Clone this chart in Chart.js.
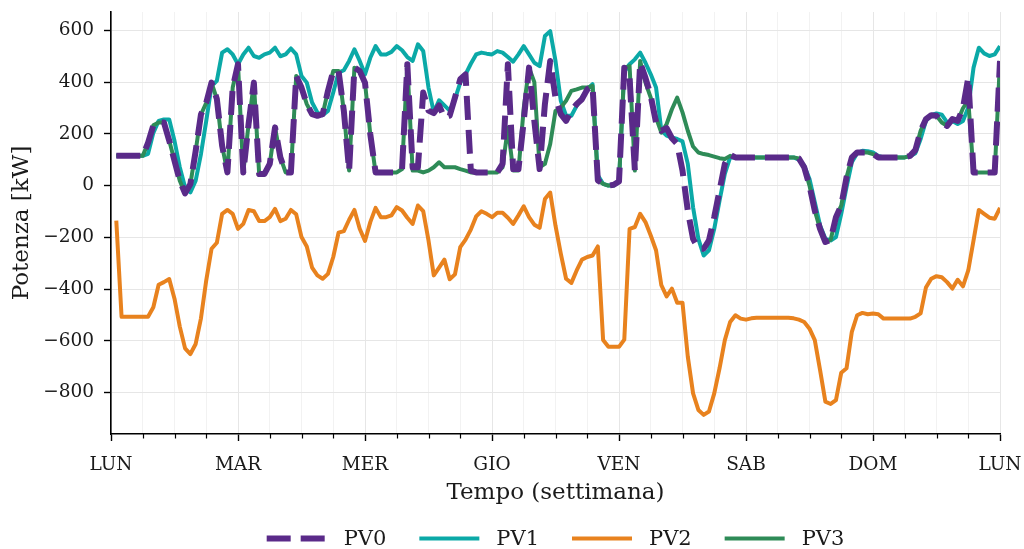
<!DOCTYPE html>
<html>
<head>
<meta charset="utf-8">
<script src="https://cdn.jsdelivr.net/npm/chart.js@4.4.1/dist/chart.umd.min.js"></script>
<style>
  html, body { margin: 0; padding: 0; background: #fff; }
</style>
</head>
<body>
<canvas id="potenzaChart" width="1024" height="549"></canvas>
<script>
// giorni della settimana (un'etichetta ogni 24 ore)
const dayLabels = ["LUN", "MAR", "MER", "GIO", "VEN", "SAB", "DOM", "LUN"];
const xTicks = [0, 6, 12, 18, 24, 30, 36, 42, 48, 54, 60, 66, 72, 78, 84, 90, 96, 102, 108, 114, 120, 126, 132, 138, 144, 150, 156, 162, 168];
const yTicks = [-800, -600, -400, -200, 0, 200, 400, 600];

// ore della settimana: 1..168
const hours = Array.from({ length: 168 }, (_, i) => i + 1);

// potenza oraria [kW]
const pv0 = [
  115, 115, 115, 115, 115, 115, 165, 233, 244, 244, 174, 96,
  19, -30, 6, 134, 275, 320, 398, 335, 154, 51, 379, 469,
  51, 238, 398, 45, 45, 84, 225, 110, 51, 51, 424, 379,
  315, 276, 270, 276, 366, 443, 443, 289, 58, 456, 443, 398,
  199, 51, 51, 51, 51, 51, 64, 469, 71, 71, 360, 290,
  280, 310, 263, 270, 340, 411, 430, 58, 51, 51, 51, 51,
  51, 84, 469, 64, 64, 250, 456, 250, 64, 315, 482, 340,
  276, 250, 289, 315, 334, 372, 385, 20, 7, 0, 3, 16,
  456, 417, 58, 475, 417, 347, 244, 212, 222, 183, 161, 58,
  -97, -206, -244, -244, -212, -122, -19, 84, 119, 109, 109, 109,
  109, 109, 109, 109, 109, 109, 109, 109, 109, 105, 71, 0,
  -97, -167, -218, -209, -122, -77, 32, 109, 128, 128, 128, 122,
  109, 109, 109, 109, 109, 109, 115, 137, 212, 257, 272, 270,
  244, 231, 257, 250, 299, 417, 51, 51, 51, 51, 51, 482
];
const pv1 = [
  115, 115, 115, 115, 115, 115, 123, 204, 250, 256, 256, 173,
  71, -6, -26, 19, 122, 250, 385, 405, 514, 527, 507, 469,
  507, 533, 501, 494, 507, 514, 533, 500, 507, 530, 507, 424,
  398, 321, 283, 272, 289, 360, 437, 446, 482, 527, 482, 430,
  494, 539, 507, 507, 517, 539, 523, 497, 482, 546, 520, 379,
  283, 330, 310, 290, 334, 398, 430, 471, 507, 514, 510, 507,
  520, 514, 497, 479, 507, 539, 507, 475, 462, 578, 597, 482,
  328, 270, 270, 308, 340, 372, 392, 40, 7, 0, 0, 16,
  440, 469, 488, 514, 475, 430, 379, 214, 193, 186, 180, 171,
  84, -84, -206, -270, -250, -167, -58, 45, 109, 109, 109, 109,
  109, 109, 109, 109, 109, 109, 109, 109, 109, 100, 77, 26,
  -64, -154, -205, -212, -199, -109, -6, 90, 125, 135, 133, 128,
  115, 109, 109, 109, 109, 109, 113, 125, 180, 250, 272, 279,
  274, 244, 250, 238, 250, 302, 456, 533, 511, 501, 507, 539
];
const pv2 = [
  -135, -507, -507, -507, -507, -507, -507, -470, -383, -373, -361, -437,
  -545, -629, -651, -612, -513, -366, -244, -221, -109, -94, -109, -167,
  -148, -94, -99, -137, -137, -122, -90, -137, -128, -94, -111, -199,
  -235, -317, -347, -360, -341, -276, -182, -176, -132, -94, -167, -214,
  -141, -86, -122, -122, -115, -83, -96, -124, -148, -77, -99, -212,
  -347, -317, -286, -362, -343, -238, -209, -170, -119, -99, -109, -122,
  -105, -105, -124, -148, -115, -80, -122, -151, -163, -52, -27, -155,
  -263, -360, -376, -328, -286, -276, -270, -235, -597, -623, -623, -623,
  -595, -167, -160, -109, -141, -193, -250, -385, -428, -398, -453, -453,
  -661, -803, -867, -886, -873, -803, -706, -597, -527, -501, -514, -518,
  -513, -511, -511, -511, -511, -511, -511, -511, -513, -518, -527, -553,
  -597, -713, -835, -844, -829, -723, -706, -565, -501, -492, -497, -494,
  -497, -514, -514, -514, -514, -514, -514, -507, -494, -394, -360, -350,
  -354, -373, -398, -364, -389, -328, -212, -94, -109, -124, -128, -86
];
const pv3 = [
  115, 115, 115, 115, 115, 115, 165, 233, 244, 244, 174, 96,
  19, -30, 6, 134, 275, 320, 398, 335, 154, 51, 379, 469,
  51, 238, 398, 45, 45, 84, 225, 110, 51, 51, 424, 379,
  315, 276, 270, 276, 366, 443, 443, 289, 58, 456, 443, 398,
  199, 51, 51, 51, 51, 51, 64, 469, 58, 58, 51, 58,
  71, 90, 71, 71, 71, 64, 58, 51, 51, 51, 51, 51,
  51, 71, 225, 58, 58, 300, 456, 400, 71, 84, 161, 289,
  302, 328, 366, 372, 379, 379, 385, 20, 7, 0, 3, 16,
  456, 462, 58, 482, 398, 340, 263, 205, 238, 295, 340, 283,
  212, 151, 128, 122, 118, 112, 106, 103, 115, 109, 109, 109,
  109, 109, 109, 109, 109, 109, 109, 109, 109, 105, 71, 0,
  -97, -167, -218, -209, -122, -77, 32, 109, 128, 128, 128, 122,
  109, 109, 109, 109, 109, 109, 115, 137, 212, 257, 272, 270,
  244, 231, 257, 250, 299, 330, 51, 51, 51, 51, 51, 482
];

const serif = "'DejaVu Serif', serif";
const textColor = "#1a1a1a";

const toPoints = arr => arr.map((v, i) => ({ x: hours[i], y: v }));

// tacche secondarie (ogni 6 ore) più corte di quelle dei giorni
const minorTicks = {
  id: "minorTicks",
  afterDraw(chart) {
    const { ctx } = chart;
    const x = chart.scales.x;
    ctx.save();
    ctx.strokeStyle = "#000";
    ctx.lineWidth = 1.2;
    x.ticks.forEach(t => {
      if (t.value % 24 === 0) return;
      const px = Math.round(x.getPixelForValue(t.value)) + 0.5;
      ctx.beginPath();
      ctx.moveTo(px, x.top);
      ctx.lineTo(px, x.top + 4.5);
      ctx.stroke();
    });
    ctx.restore();
  }
};

// legenda in basso, centrata sull'area del grafico
const seriesLegend = {
  id: "seriesLegend",
  afterDraw(chart) {
    const { ctx, chartArea } = chart;
    const sampleW = 60, gap = 17, spacing = 33, y = 538.5;
    ctx.save();
    ctx.font = "21px " + serif;
    const items = chart.data.datasets.map(ds => ({ ds, w: sampleW + gap + ctx.measureText(ds.label).width }));
    const total = items.reduce((a, it) => a + it.w, 0) + spacing * (items.length - 1);
    let x = (chartArea.left + chartArea.right) / 2 - total / 2;
    ctx.textBaseline = "middle";
    items.forEach(({ ds, w }) => {
      ctx.strokeStyle = ds.borderColor;
      ctx.lineWidth = ds.borderWidth;
      ctx.setLineDash(ds.borderDash || []);
      ctx.beginPath();
      ctx.moveTo(x, y);
      ctx.lineTo(x + sampleW, y);
      ctx.stroke();
      ctx.setLineDash([]);
      ctx.fillStyle = textColor;
      ctx.fillText(ds.label, x + sampleW + gap, y + 1);
      x += w + spacing;
    });
    ctx.restore();
  }
};

const ctx = document.getElementById("potenzaChart").getContext("2d");

new Chart(ctx, {
  type: "line",
  data: {
    datasets: [
      { label: "PV0", data: toPoints(pv0), borderColor: "#5a2a89", borderWidth: 6, borderDash: [24, 10], order: 0 },
      { label: "PV1", data: toPoints(pv1), borderColor: "#0ba9a7", borderWidth: 4, order: 3 },
      { label: "PV2", data: toPoints(pv2), borderColor: "#e8821e", borderWidth: 4, order: 2 },
      { label: "PV3", data: toPoints(pv3), borderColor: "#2e8b57", borderWidth: 4, order: 1 }
    ]
  },
  options: {
    responsive: false,
    animation: false,
    layout: { padding: { left: 0, top: 12, right: 24, bottom: 38 } },
    elements: {
      point: { radius: 0 },
      line: { tension: 0, borderJoinStyle: "round", fill: false }
    },
    plugins: {
      legend: { display: false },
      tooltip: { enabled: false }
    },
    scales: {
      x: {
        type: "linear",
        min: 0,
        max: 168,
        afterBuildTicks: s => { s.ticks = xTicks.map(v => ({ value: v })); },
        afterFit: s => {
          s.height = 77;
          s.paddingLeft = 0;
          s.paddingRight = 0;
        },
        grid: {
          color: c => (c.tick && c.tick.value % 24 === 0) ? "#e6e6e6" : "#f2f2f2",
          lineWidth: 1,
          tickLength: 7,
          tickWidth: 1.4,
          tickColor: c => (c.tick && c.tick.value % 24 === 0) ? "#000" : "rgba(0,0,0,0)"
        },
        border: { display: true, color: "#000", width: 1.6 },
        ticks: {
          autoSkip: false,
          maxRotation: 0,
          padding: 13,
          color: textColor,
          font: { family: serif, size: 18.5 },
          callback: v => (v % 24 === 0 ? dayLabels[v / 24] : "")
        },
        title: {
          display: true,
          text: "Tempo (settimana)",
          color: textColor,
          font: { family: serif, size: 23 },
          padding: { top: 0, bottom: 4 }
        }
      },
      y: {
        min: -960,
        max: 671,
        afterBuildTicks: s => { s.ticks = yTicks.map(v => ({ value: v })); },
        afterFit: s => {
          s.width = 111;
          s.paddingTop = 0;
          s.paddingBottom = 0;
        },
        grid: { color: "#e6e6e6", lineWidth: 1, tickLength: 7, tickWidth: 1.4, tickColor: "#000" },
        border: { display: true, color: "#000", width: 1.6 },
        ticks: {
          padding: 10,
          color: textColor,
          font: { family: serif, size: 18.5 },
          callback: v => (v < 0 ? "\u2212" + Math.abs(v) : String(v))
        },
        title: {
          display: true,
          text: "Potenza [kW]",
          color: textColor,
          font: { family: serif, size: 23 },
          padding: { top: 8, bottom: 0 }
        }
      }
    }
  },
  plugins: [minorTicks, seriesLegend]
});
</script>
</body>
</html>
